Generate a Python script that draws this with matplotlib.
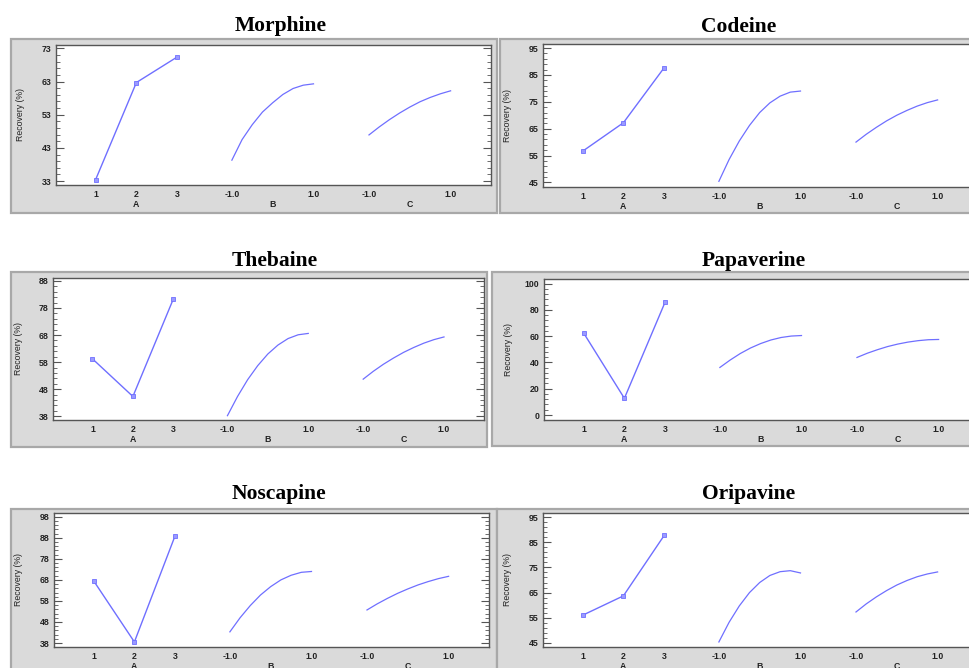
import matplotlib
matplotlib.use("Agg")
import matplotlib.pyplot as plt
from matplotlib.patches import Rectangle
from matplotlib.ticker import AutoMinorLocator

# ---------------- data ----------------
compounds = ["Morphine", "Codeine", "Thebaine", "Papaverine", "Noscapine", "Oripavine"]
A_levels = [1, 2, 3]
B_levels = [-1.0, -0.75, -0.5, -0.25, 0.0, 0.25, 0.5, 0.75, 1.0]
C_levels = [-1.0, -0.75, -0.5, -0.25, 0.0, 0.25, 0.5, 0.75, 1.0]

morphine_A = [33.4, 62.7, 70.4]
morphine_B = [39.3, 45.5, 50.0, 53.8, 56.6, 59.1, 60.9, 61.9, 62.3]
morphine_C = [46.9, 49.3, 51.5, 53.5, 55.3, 56.9, 58.2, 59.3, 60.2]

codeine_A = [56.6, 67.2, 87.7]
codeine_B = [45.4, 53.5, 60.4, 66.2, 71.0, 74.6, 77.1, 78.6, 79.0]
codeine_C = [60.0, 62.9, 65.5, 67.9, 70.0, 71.8, 73.4, 74.7, 75.7]

thebaine_A = [59.2, 45.3, 81.3]
thebaine_B = [38.2, 45.3, 51.5, 56.7, 61.0, 64.3, 66.7, 68.1, 68.6]
thebaine_C = [51.7, 54.6, 57.2, 59.5, 61.6, 63.4, 65.0, 66.3, 67.3]

papaverine_A = [62.5, 12.7, 86.1]
papaverine_B = [36.2, 41.8, 46.8, 51.0, 54.4, 57.1, 59.0, 60.1, 60.5]
papaverine_C = [43.8, 47.0, 49.7, 52.1, 54.0, 55.5, 56.6, 57.3, 57.5]

noscapine_A = [67.6, 38.5, 89.1]
noscapine_B = [43.3, 50.0, 55.8, 60.8, 64.8, 68.0, 70.2, 71.6, 72.0]
noscapine_C = [53.7, 56.6, 59.2, 61.6, 63.7, 65.6, 67.2, 68.6, 69.7]

oripavine_A = [56.0, 63.7, 87.7]
oripavine_B = [45.4, 53.2, 59.7, 65.0, 69.0, 71.8, 73.3, 73.7, 72.8]
oripavine_C = [57.3, 60.5, 63.3, 65.8, 68.0, 69.8, 71.3, 72.4, 73.2]

x_tick_labels = ["1", "2", "3", "-1.0", "1.0", "-1.0", "1.0"]
factor_names = ["A", "B", "C"]

y_ticks = {
    "Morphine": [33, 43, 53, 63, 73],
    "Codeine": [45, 55, 65, 75, 85, 95],
    "Thebaine": [38, 48, 58, 68, 78, 88],
    "Papaverine": [0, 20, 40, 60, 80, 100],
    "Noscapine": [38, 48, 58, 68, 78, 88, 98],
    "Oripavine": [45, 55, 65, 75, 85, 95],
}

series = {
    "Morphine": (morphine_A, morphine_B, morphine_C),
    "Codeine": (codeine_A, codeine_B, codeine_C),
    "Thebaine": (thebaine_A, thebaine_B, thebaine_C),
    "Papaverine": (papaverine_A, papaverine_B, papaverine_C),
    "Noscapine": (noscapine_A, noscapine_B, noscapine_C),
    "Oripavine": (oripavine_A, oripavine_B, oripavine_C),
}

# ---------------- layout (pixels) ----------------
W, H = 969, 668
layout = {
    "Morphine":   dict(plot=(56, 44.7, 491, 184.7), frame=(11, 39, 497, 213), ylim=(31.9, 74.1), title=(280.5, 31.5)),
    "Codeine":    dict(plot=(543, 44.3, 978, 186.7), frame=(500, 39, 1040, 213), ylim=(43.4, 96.4), title=(739, 31.5)),
    "Thebaine":   dict(plot=(53.3, 277.7, 484, 420), frame=(11, 272, 487, 447), ylim=(36.6, 89.2), title=(275, 266)),
    "Papaverine": dict(plot=(544, 279.3, 979, 420), frame=(492, 272, 1040, 446), ylim=(-3.8, 103.3), title=(754, 266)),
    "Noscapine":  dict(plot=(54, 513, 489, 647), frame=(11, 509, 497, 730), ylim=(36.1, 99.8), title=(279, 499)),
    "Oripavine":  dict(plot=(543, 513, 978, 647), frame=(497, 509, 1040, 730), ylim=(43.4, 96.6), title=(748.5, 499)),
}

A_offset = -1.0
B_offset = 4.34
C_offset = 7.70
x_tick_pos = [A_levels[0] + A_offset, A_levels[1] + A_offset, A_levels[2] + A_offset,
              -1 + B_offset, 1 + B_offset, -1 + C_offset, 1 + C_offset]
xlim = (-0.97, 9.69)

line_color = "#6f6fff"
spine_color = "#555555"
frame_fill = "#dadada"
frame_edge = "#a8a8a8"
tick_font = dict(family="Liberation Sans", weight="bold", size=6.3)

fig = plt.figure(figsize=(W / 100, H / 100), dpi=100)
fig.patch.set_facecolor("white")

for name in compounds:
    L = layout[name]
    fx0, fy0, fx1, fy1 = L["frame"]
    fig.patches.append(Rectangle((fx0 / W, 1 - fy1 / H), (fx1 - fx0) / W, (fy1 - fy0) / H,
                                 transform=fig.transFigure, facecolor=frame_fill,
                                 edgecolor=frame_edge, linewidth=1.6, zorder=-5))
    x0, y0, x1, y1 = L["plot"]
    ax = fig.add_axes([x0 / W, 1 - y1 / H, (x1 - x0) / W, (y1 - y0) / H])
    ax.set_zorder(2)
    ax.set_facecolor("white")
    a_vals, b_vals, c_vals = series[name]
    ax.plot([v + A_offset for v in A_levels], a_vals, color=line_color, lw=1.0,
            marker="s", ms=2.6, mfc="#9a9aff", mec=line_color, mew=0.6)
    ax.plot([v + B_offset for v in B_levels], b_vals, color=line_color, lw=0.9)
    ax.plot([v + C_offset for v in C_levels], c_vals, color=line_color, lw=0.9)

    ax.set_xlim(*xlim)
    ax.set_ylim(*L["ylim"])
    ax.set_xticks(x_tick_pos)
    ax.set_xticklabels(x_tick_labels, fontdict=tick_font, color="#222222")
    ax.set_yticks(y_ticks[name])
    ax.set_yticklabels([str(t) for t in y_ticks[name]], fontdict=tick_font, color="#222222")
    ax.yaxis.set_minor_locator(AutoMinorLocator(5))
    ax.tick_params(axis="x", which="both", length=0, pad=3.8)
    ax.tick_params(axis="y", which="major", direction="in", length=6, width=0.8,
                   color=spine_color, right=True, pad=3.4)
    ax.tick_params(axis="y", which="minor", direction="in", length=3, width=0.6,
                   color=spine_color, right=True)
    for s in ax.spines.values():
        s.set_color(spine_color)
        s.set_linewidth(1.0)

    for fname, xc in zip(factor_names, [A_levels[1] + A_offset, B_offset, C_offset]):
        ax.annotate(fname, xy=(xc, 0), xycoords=("data", "axes fraction"),
                    xytext=(0, -14), textcoords="offset points",
                    ha="center", va="center", color="#222222", **tick_font)
    ax.annotate("Recovery (%)", xy=(0, 0.5), xycoords="axes fraction",
                xytext=(-25.4, 0), textcoords="offset points", rotation=90,
                ha="center", va="center", family="Liberation Sans", size=6.3,
                color="#222222")

    tx, ty = L["title"]
    fig.text(tx / W, 1 - ty / H, name, ha="center", va="baseline",
             family="Liberation Serif", weight="bold", size=15.5, color="black")

fig.savefig("out.png", dpi=100, facecolor="white")
